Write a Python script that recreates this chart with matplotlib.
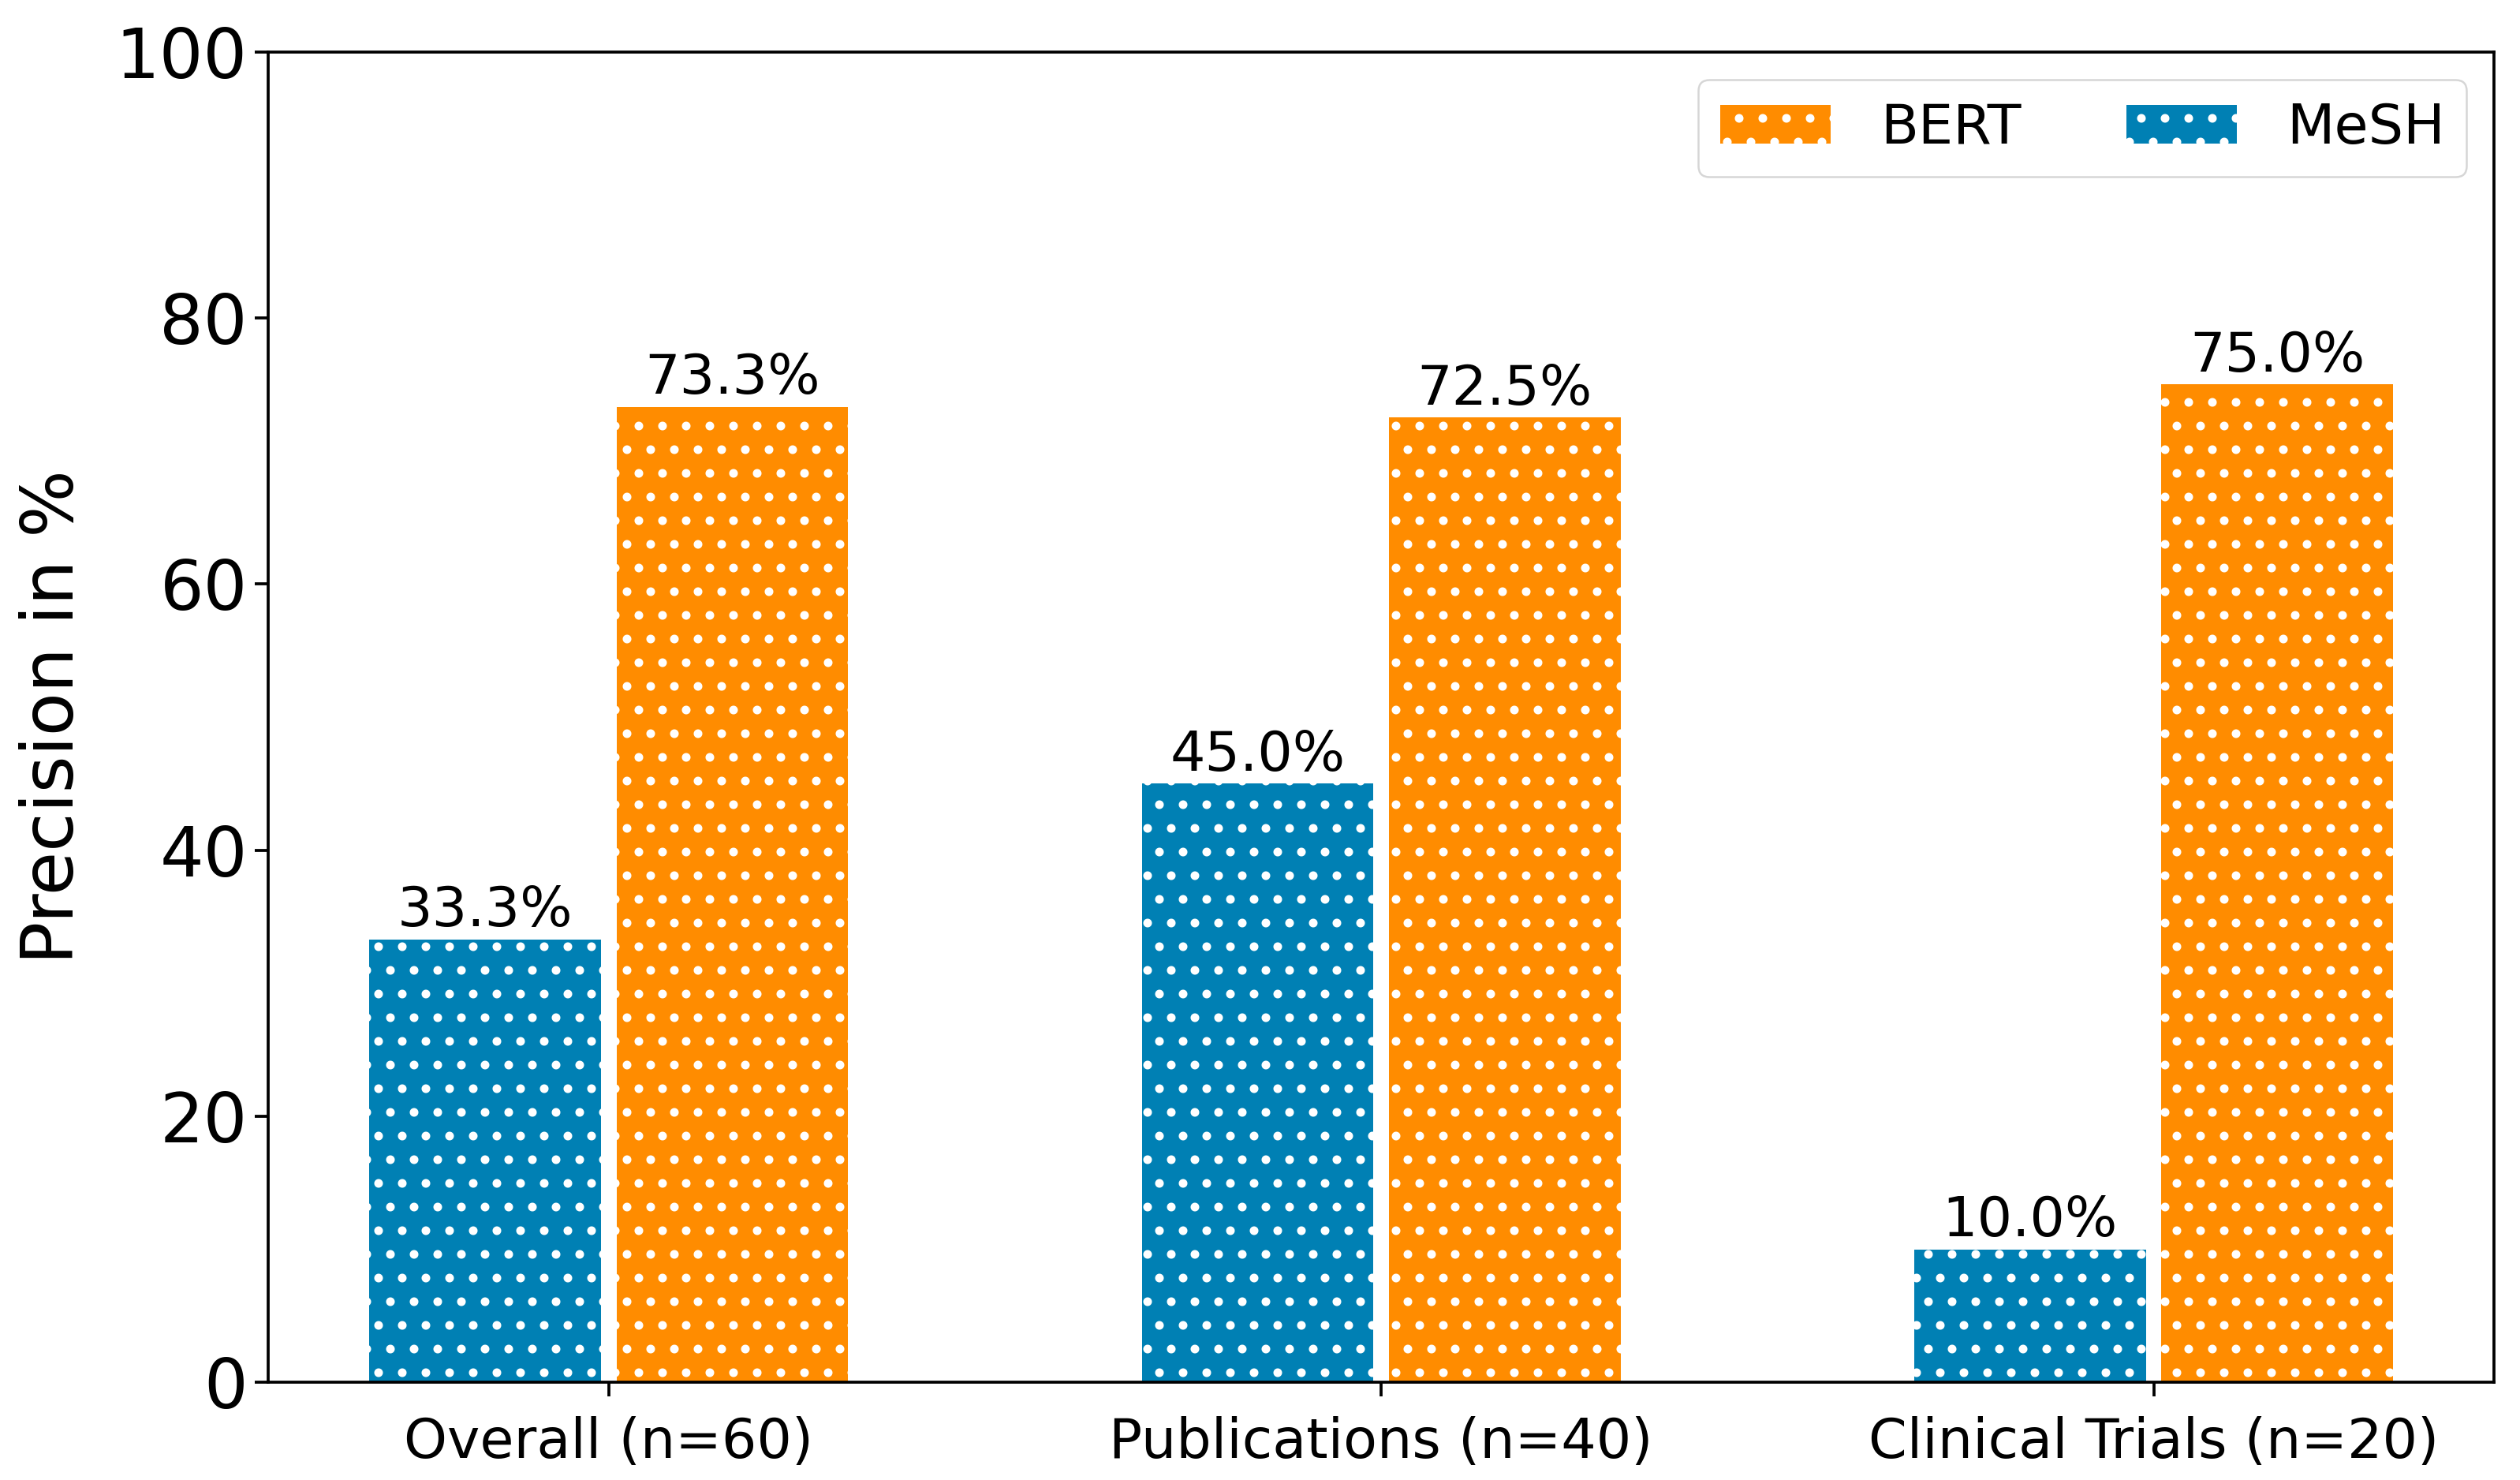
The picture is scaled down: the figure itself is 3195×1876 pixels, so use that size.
import numpy as np
import matplotlib.pyplot as plt

categories = ['Overall (n=60)', 'Publications (n=40)', 'Clinical Trials (n=20)']
mesh_vals = [33.3, 45.0, 10.0]
bert_vals = [73.3, 72.5, 75.0]

plt.rcParams['hatch.color'] = 'white'
plt.rcParams['hatch.linewidth'] = 2.0

fig, ax = plt.subplots(figsize=(3195 / 180, 1876 / 180), dpi=180)
fig.subplots_adjust(left=0.1064, right=0.9898, top=0.965, bottom=0.066)

x = np.arange(len(categories))
w = 0.3
b1 = ax.bar(x - 0.16, mesh_vals, w, color='#0080B4', edgecolor='white', linewidth=0, hatch='.', label='MeSH')
b2 = ax.bar(x + 0.16, bert_vals, w, color='#FF8C00', edgecolor='white', linewidth=0, hatch='.', label='BERT')

ax.bar_label(b1, fmt='%.1f%%', fontsize=28, padding=1)
ax.bar_label(b2, fmt='%.1f%%', fontsize=28, padding=1)

ax.set_ylim(0, 100)
ax.set_xticks(x)
ax.set_xticklabels(categories, fontsize=28)
ax.tick_params(axis='y', labelsize=35)
ax.tick_params(axis='x', pad=10)
ax.tick_params(length=7, width=1.5)
for s in ax.spines.values():
    s.set_linewidth(1.5)
ax.set_ylabel('Precision in %', fontsize=36, labelpad=14)

ax.legend(handles=[b2, b1], loc='upper right', ncol=2, fontsize=28,
          handlelength=2.0, handletextpad=0.9, columnspacing=1.9, borderpad=0.4)

plt.savefig('out.png', dpi=180)
